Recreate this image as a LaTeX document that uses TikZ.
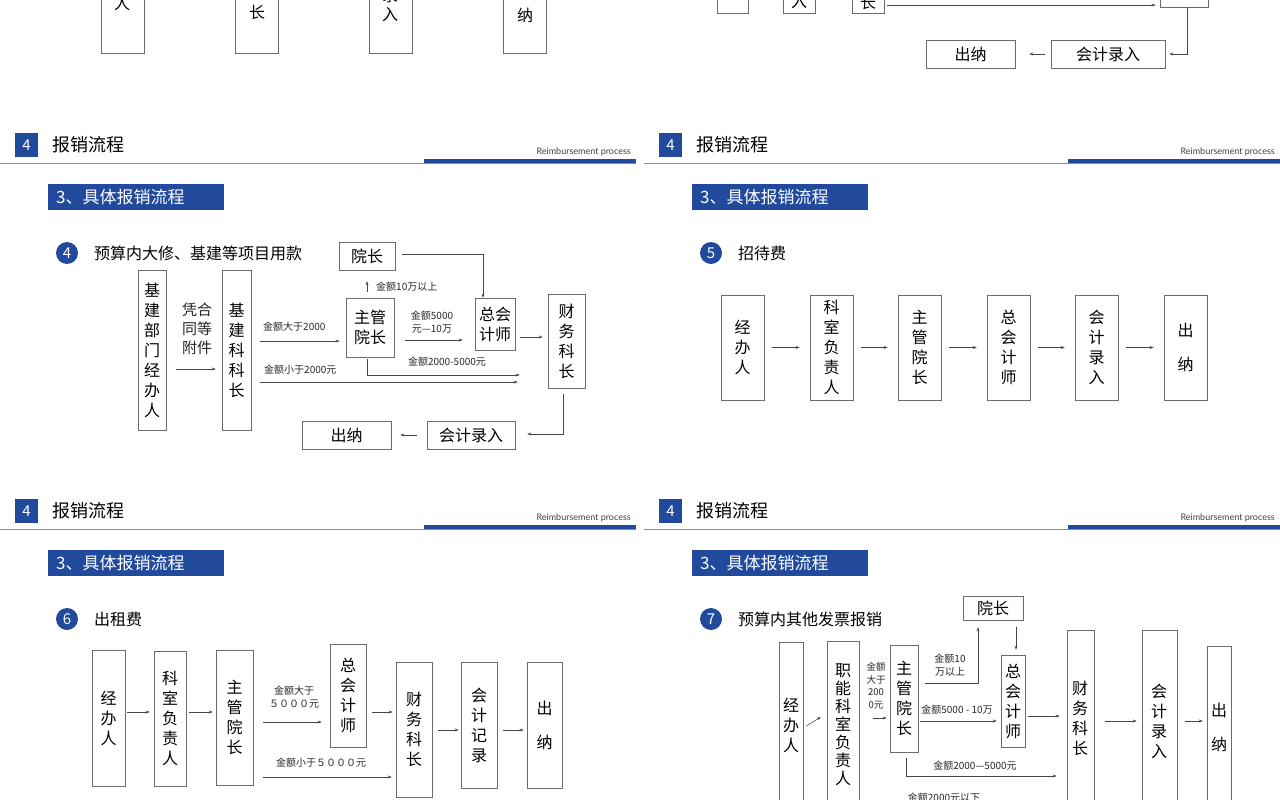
\documentclass[tikz,border=0pt]{standalone}
\usepackage{fontspec}
\setmainfont{Noto Sans CJK SC}
\newfontfamily\latf{Lato}
\usetikzlibrary{arrows.meta,calc}
\definecolor{hb}{RGB}{33,74,156}
\definecolor{ln}{RGB}{70,70,70}
\tikzset{
 box/.style={draw=ln!80,line width=0.6pt,inner sep=0pt,align=center,font=\fontsize{16}{20}\selectfont},
 arr/.style={draw=ln,line width=0.6pt,-{Stealth[length=4pt,width=3pt]}},
 ln/.style={draw=ln,line width=0.6pt},
 lab/.style={font=\fontsize{10}{12.5}\selectfont,inner sep=0pt,align=center,text=black!85},
 ttl/.style={font=\fontsize{16}{18}\selectfont,anchor=west,inner sep=0pt},
}
\newcommand\bx[6]{\node[box,minimum width={(#4-#2)*1pt},minimum height={(#5-#3)*1pt}] (#1) at ({(#2+#4)/2},{(#3+#5)/2}) {#6};}
\newcommand\slidehead[4]{%
 \begin{scope}[shift={(#1,#2)}]
  \fill[hb] (15,133) rectangle (38,157);
  \node[text=white,font=\fontsize{15}{15}\selectfont] (#3n) at (26.5,145) {4};
  \node[ttl,font=\fontsize{18}{20}\selectfont] (#3t) at (52,145) {报销流程};
  \draw[black!45,line width=0.6pt] (0,163) -- (636,163);
  \fill[hb] (424,159) rectangle (636,163);
  \node[anchor=east,inner sep=0pt,font=\latf\fontsize{9}{10}\selectfont,text=black!75] (#3e) at (631,152) {Reimbursement process};
  \fill[hb] (48,184) rectangle (224,210);
  \node[anchor=west,inner sep=0pt,text=white,font=\fontsize{17}{18}\selectfont] (#3b) at (56,197) {3、具体报销流程};
  \fill[hb] (67,253) circle (11);
  \node[text=white,font=\fontsize{15}{15}\selectfont] (#3c) at (67,253) {#4};
 \end{scope}}
\begin{document}
\begin{tikzpicture}[x=1pt,y=-1pt]
\useasboundingbox (0,0) rectangle (1280,800);
\fill[white] (0,0) rectangle (1280,800);
\clip (0,0) rectangle (1280,800);
% ---- partial top slides
\bx{a1}{101}{-40}{144}{53}{}
\node[box,draw=none] (a1t) at (122,3) {人};
\bx{a2}{235}{-40}{278}{53}{}
\node[box,draw=none] (a2t) at (257,12) {长};
\bx{a3}{369}{-40}{412}{53}{}
\node[box,draw=none,font=\fontsize{16}{19}\selectfont] (a3t) at (390,5) {录\\入};
\bx{a4}{503}{-40}{546}{53}{}
\node[box,draw=none] (a4t) at (525,15) {纳};
\bx{b1}{717}{-40}{748}{13}{}
\bx{b2}{783}{-40}{815}{13}{}
\node[box,draw=none] (b2t) at (799,2) {入};
\bx{b3}{852}{-40}{884}{13}{}
\node[box,draw=none] (b3t) at (868,2) {长};
\bx{b4}{1160}{-40}{1208}{7}{}
\draw[arr] ($(b3.east|-0,5)+(3,0)$) -- ($(b4.west|-0,5)+(-4,0)$);
\bx{b5}{1051}{40}{1165}{68}{会计录入}
\bx{b6}{926}{40}{1015}{68}{出纳}
\draw[arr] (1187,7) -- (1187,54) -- ($(b5.east)+(4,0)$);
\draw[arr] ($(b5.west)+(-6,0)$) -- ($(b6.east)+(14,0)$);
% ---- headers
\slidehead{0}{0}{h1}{4}
\slidehead{644}{0}{h2}{5}
\slidehead{0}{366}{h3}{6}
\slidehead{644}{366}{h4}{7}
\node[ttl] (t1) at (94,253) {预算内大修、基建等项目用款};
\node[ttl] (t2) at (738,253) {招待费};
\node[ttl] (t3) at (94,619) {出租费};
\node[ttl] (t4) at (738,619) {预算内其他发票报销};
% ---- slide 4
\bx{s1}{138}{270}{166}{430}{基\\建\\部\\门\\经\\办\\人}
\node[lab,font=\fontsize{15}{19}\selectfont] (s1l) at (197,329) {凭合\\同等\\附件};
\bx{s2}{222}{270}{251}{430}{基\\建\\科\\科\\长}
\bx{s3}{339}{242}{395}{270}{院长}
\bx{s4}{346}{298}{394}{357}{主管\\院长}
\bx{s5}{475}{298}{515}{350}{总会\\计师}
\bx{s6}{548}{294}{585}{388}{财\\务\\科\\长}
\bx{s7}{427}{421}{515}{449}{会计录入}
\bx{s8}{302}{421}{391}{449}{出纳}
\draw[arr] ($(s1.east|-0,369)+(10,0)$) -- ($(s2.west|-0,369)+(-6,0)$);
\draw[arr] ($(s3.east|-0,254)+(7,0)$) -- (483,254) -- (s5.north-|483,0);
\draw[arr] ($(s4.north-|367,0)+(0,-6)$) -- ($(s3.south-|367,0)+(0,11)$);
\node[lab,anchor=west] (l41) at (376,287) {金额10万以上};
\draw[arr] ($(s2.east|-0,341)+(9,0)$) -- ($(s4.west|-0,341)+(-6,0)$);
\node[lab,anchor=west] (l42) at (263,327) {金额大于2000};
\draw[arr] ($(s4.east|-0,340)+(11,0)$) -- ($(s5.west|-0,340)+(-12,0)$);
\node[lab] (l43) at (432,322) {金额5000\\元—10万};
\draw[arr] ($(s5.east|-0,337)+(5,0)$) -- ($(s6.west|-0,337)+(-5,0)$);
\draw[arr] ($(s4.south-|367,0)+(0,2)$) -- (367,375) -- ($(s6.west|-0,375)+(-28,0)$);
\node[lab] (l44) at (447,362) {金额2000-5000元};
\draw[arr] ($(s2.east|-0,382)+(9,0)$) -- ($(s6.west|-0,382)+(-30,0)$);
\node[lab,anchor=west] (l45) at (264,370) {金额小于2000元};
\draw[arr] ($(s6.south-|563,0)+(0,6)$) -- (563,434) -- ($(s7.east|-0,434)+(12,0)$);
\draw[arr] ($(s7.west)+(-10,0)$) -- ($(s8.east)+(9,0)$);
% ---- slide 5
\bx{f1}{721}{295}{764}{400}{经\\办\\人}
\bx{f2}{810}{295}{853}{400}{科\\室\\负\\责\\人}
\bx{f3}{898}{295}{941}{400}{主\\管\\院\\长}
\bx{f4}{987}{295}{1030}{400}{总\\会\\计\\师}
\bx{f5}{1075}{295}{1118}{400}{会\\计\\录\\入}
\bx{f6}{1164}{295}{1207}{400}{出\\[14pt]纳}
\foreach \a/\b in {f1/f2,f2/f3,f3/f4,f4/f5,f5/f6}
  \draw[arr] ($(\a.east)+(8,0)$) -- ($(\b.west)+(-10,0)$);
% ---- slide 6
\bx{g1}{92}{650}{125}{786}{经\\办\\人}
\bx{g2}{154}{651}{186}{786}{科\\室\\负\\责\\人}
\bx{g3}{216}{650}{253}{785}{主\\管\\院\\长}
\bx{g4}{330}{644}{366}{747}{总\\会\\计\\师}
\bx{g5}{396}{662}{432}{797}{财\\务\\科\\长}
\bx{g6}{461}{662}{497}{788}{会\\计\\记\\录}
\bx{g7}{527}{662}{562}{788}{出\\[14pt]纳}
\draw[arr] ($(g1.east|-0,712)+(2,0)$) -- ($(g2.west|-0,712)+(-4,0)$);
\draw[arr] ($(g2.east|-0,712)+(3,0)$) -- ($(g3.west|-0,712)+(-3,0)$);
\draw[arr] ($(g3.east|-0,722)+(10,0)$) -- ($(g4.west|-0,722)+(-8,0)$);
\node[lab] (l61) at (294,697) {金额大于\\５０００元};
\draw[arr] ($(g4.east|-0,712)+(6,0)$) -- ($(g5.west|-0,712)+(-3,0)$);
\draw[arr] ($(g5.east|-0,730)+(6,0)$) -- ($(g6.west|-0,730)+(-2,0)$);
\draw[arr] ($(g6.east|-0,730)+(6,0)$) -- ($(g7.west|-0,730)+(-3,0)$);
\draw[arr] ($(g3.east|-0,777)+(10,0)$) -- ($(g5.west|-0,777)+(-4,0)$);
\node[lab,anchor=west] (l62) at (276,763) {金额小于５０００元};
% ---- slide 7
\bx{k0}{963}{596}{1023}{620}{院长}
\bx{k1}{779}{642}{803}{830}{}
\node[box,draw=none] (k1t) at (791,725) {经\\办\\人};
\bx{k2}{827}{641}{859}{830}{}
\node[box,draw=none,font=\fontsize{16}{18}\selectfont] (k2t) at (843,725) {职\\能\\科\\室\\负\\责\\人};
\node[lab,font=\fontsize{9.5}{12.5}\selectfont] (l71) at (876,686) {金额\\大于\\200\\0元};
\bx{k3}{890}{645}{918}{752}{主\\管\\院\\长}
\bx{k4}{1001}{655}{1025}{747}{总\\会\\计\\师}
\bx{k5}{1067}{630}{1094}{830}{}
\node[box,draw=none] (k5t) at (1080,718) {财\\务\\科\\长};
\bx{k6}{1142}{630}{1177}{830}{}
\node[box,draw=none] (k6t) at (1159,721) {会\\计\\录\\入};
\bx{k7}{1207}{646}{1231}{830}{}
\node[box,draw=none] (k7t) at (1219,727) {出\\[14pt]纳};
\draw[arr] ($(k1.east|-0,726)+(3,0)$) -- ($(k2.west|-0,717)+(-6,0)$);
\draw[arr] (873,718) -- ($(k3.west|-0,718)+(-3,0)$);
\draw[arr] ($(k3.east|-0,683)+(7,0)$) -- (978,683) -- ($(k0.south-|978,0)+(0,7)$);
\node[lab] (l72) at (950,665) {金额10\\万以上};
\draw[arr] ($(k0.south-|1016,0)+(0,7)$) -- ($(k4.north-|1016,0)+(0,-5)$);
\draw[arr] ($(k3.east|-0,721)+(2,0)$) -- ($(k4.west|-0,721)+(-4,0)$);
\node[lab] (l73) at (957,710) {金额5000 - 10万};
\draw[arr] ($(k4.east|-0,716)+(3,0)$) -- ($(k5.west|-0,716)+(-7,0)$);
\draw[arr] ($(k5.east|-0,721)+(11,0)$) -- ($(k6.west|-0,721)+(-5,0)$);
\draw[arr] ($(k6.east|-0,721)+(8,0)$) -- ($(k7.west|-0,721)+(-4,0)$);
\draw[arr] ($(k3.south-|906,0)+(0,6)$) -- (906,776) -- ($(k5.west|-0,776)+(-10,0)$);
\node[lab] (l74) at (975,766) {金额2000—5000元};
\node[lab] (l75) at (944,798) {金额2000元以下};
\end{tikzpicture}
\end{document}
